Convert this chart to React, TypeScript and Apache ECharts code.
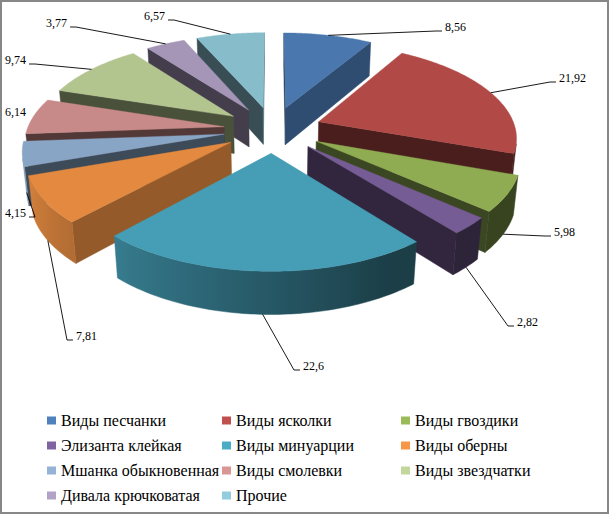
import React, { useEffect, useRef } from "react";
import * as echarts from "echarts";

// ---------- data ----------
const CATEGORIES = [
  "Виды песчанки",
  "Виды ясколки",
  "Виды гвоздики",
  "Элизанта клейкая",
  "Виды минуарции",
  "Виды оберны",
  "Мшанка обыкновенная",
  "Виды смолевки",
  "Виды звездчатки",
  "Дивала крючковатая",
  "Прочие",
];
const VALUES = [8.56, 21.92, 5.98, 2.82, 22.6, 7.81, 4.15, 6.14, 9.74, 3.77, 6.57];
const COLORS = [
  "#4F81BD", "#C0504D", "#9BBB59", "#8064A2", "#4BACC6", "#F79646",
  "#95B3D7", "#D99694", "#C3D69B", "#B3A2C7", "#93CDDD",
];

// ---------- layout (data-label boxes as placed in the original) ----------
const LABEL_POS: Array<[number, number, "left" | "right"]> = [
  [445, 27, "left"],
  [559, 78, "left"],
  [554, 232, "left"],
  [517, 322, "left"],
  [303, 366, "left"],
  [76, 336, "left"],
  [26, 213, "right"],
  [26, 112, "right"],
  [26, 60, "right"],
  [67, 23, "right"],
  [165, 16, "right"],
];

const SERIF = "'Liberation Serif', 'Times New Roman', serif";

const VIEW = {
  cx: 272.9,
  cy: 129.4,
  f: 197,
  sinA: 0.468,
  cosA: 0.884,
  k: 0.17,
  explode: 0.25,
  thick: 0.22,
};

const TOTAL = VALUES.reduce((s, v) => s + v, 0);
const STARTS: number[] = [];
{
  let acc = 0;
  VALUES.forEach((v) => {
    STARTS.push(acc);
    acc += v;
  });
}
const MIDS = VALUES.map((v, i) => ((STARTS[i] + v / 2) / TOTAL) * Math.PI * 2);
const ORDER = VALUES.map((_, i) => i).sort((a, b) => Math.cos(MIDS[b]) - Math.cos(MIDS[a]));

function project(X: number, Y: number, Z: number): number[] {
  const v = Y * VIEW.sinA + Z * VIEW.cosA;
  const w = 1 + VIEW.k * (Y * VIEW.cosA - Z * VIEW.sinA);
  return [VIEW.cx + (VIEW.f * X) / w, VIEW.cy - (VIEW.f * v) / w];
}

function shade(hex: string, f: number): string {
  const n = parseInt(hex.slice(1), 16);
  const r = Math.min(255, Math.round(((n >> 16) & 255) * f));
  const g = Math.min(255, Math.round(((n >> 8) & 255) * f));
  const b = Math.min(255, Math.round((n & 255) * f));
  return `rgb(${r},${g},${b})`;
}

function area(pts: number[][]): number {
  let s = 0;
  for (let i = 0; i < pts.length; i++) {
    const a = pts[i];
    const b = pts[(i + 1) % pts.length];
    s += a[0] * b[1] - b[0] * a[1];
  }
  return s;
}

function normDeg(d: number): number {
  return ((d % 360) + 360) % 360;
}

function wallFactor(deg: number): number {
  const d = normDeg(deg);
  const t = Math.max(0, Math.min(1, (d - 150) / 100));
  return 0.36 + 0.5 * t;
}

function radialFactor(deg: number): number {
  const d = normDeg(deg);
  if (d <= 135) return 0.6;
  if (d < 165) return 0.6 - ((d - 135) / 30) * 0.22;
  return 0.38;
}

function fmt(v: number): string {
  return String(v).replace(".", ",");
}

const renderItem = (params: any, api: any) => {
  const i = params.dataIndex;
  const v = api.value(0);
  const a1 = (STARTS[i] / TOTAL) * Math.PI * 2;
  const a2 = ((STARTS[i] + v) / TOTAL) * Math.PI * 2;
  const m = (a1 + a2) / 2;
  const ox = VIEW.explode * Math.sin(m);
  const oy = VIEW.explode * Math.cos(m);
  const T = VIEW.thick;
  const P = (ang: number, r: number, z: number) =>
    project(ox + r * Math.sin(ang), oy + r * Math.cos(ang), z);
  const color = COLORS[i];
  const base = 10 + ORDER.indexOf(i) * 10;
  const children: any[] = [];

  // radial cut faces
  const edges: Array<[number, boolean]> = [
    [a1, false],
    [a2, true],
  ];
  edges.forEach(([ang, isEnd]) => {
    const pts = [P(0, 0, 0), P(ang, 1, 0), P(ang, 1, -T), P(0, 0, -T)];
    const s = area(pts);
    const visible = isEnd ? s > 0 : s < 0;
    if (!visible) return;
    const nDeg = (ang * 180) / Math.PI + (isEnd ? 90 : -90);
    const fill = shade(color, radialFactor(nDeg));
    children.push({
      type: "polygon",
      shape: { points: pts },
      style: { fill, stroke: fill, lineWidth: 0.5 },
      z2: base + 1,
    });
  });

  // outer wall: contiguous visible runs, each one polygon with a horizontal gradient
  const N = Math.max(4, Math.ceil((a2 - a1) / (1 * (Math.PI / 180))));
  const angs: number[] = [];
  for (let k = 0; k <= N; k++) angs.push(a1 + ((a2 - a1) * k) / N);
  const vis: boolean[] = [];
  for (let k = 0; k < N; k++) {
    const a = angs[k];
    const b = angs[k + 1];
    vis.push(area([P(a, 1, 0), P(b, 1, 0), P(b, 1, -T), P(a, 1, -T)]) < 0);
  }
  let k = 0;
  while (k < N) {
    if (!vis[k]) {
      k++;
      continue;
    }
    let e = k;
    while (e < N && vis[e]) e++;
    const runAngs = angs.slice(k, e + 1);
    const topPts = runAngs.map((a) => P(a, 1, 0));
    const botPts = runAngs.map((a) => P(a, 1, -T)).reverse();
    const xs = topPts.map((p) => p[0]);
    const minX = Math.min(...xs);
    const maxX = Math.max(...xs);
    const span = Math.max(1e-3, maxX - minX);
    const stops = runAngs
      .map((a, j) => ({
        offset: (xs[j] - minX) / span,
        color: shade(color, wallFactor((a * 180) / Math.PI)),
      }))
      .sort((p, q) => p.offset - q.offset);
    const grad = new echarts.graphic.LinearGradient(minX, 0, maxX, 0, stops, true);
    children.push({
      type: "polygon",
      shape: { points: topPts.concat(botPts) },
      style: { fill: grad, stroke: grad, lineWidth: 0.5 },
      z2: base + 2,
    });
    k = e;
  }

  // top face
  const top: number[][] = [P(0, 0, 0)];
  const M = N * 2;
  for (let j = 0; j <= M; j++) top.push(P(a1 + ((a2 - a1) * j) / M, 1, 0));
  const topFill = shade(color, 0.92);
  children.push({
    type: "polygon",
    shape: { points: top },
    style: { fill: topFill, stroke: topFill, lineWidth: 0.4 },
    z2: base + 3,
  });

  // data label + leader line
  const anchor = Math.cos(m) < 0 ? P(m, 1, -T) : P(m, 1, 0);
  const [lx, ly, align] = LABEL_POS[i];
  const endX = align === "left" ? lx - 3 : lx + 3;
  const endY = ly + 4;
  const elbowX = align === "left" ? endX - 6 : endX + 6;
  const dist = Math.hypot(anchor[0] - endX, anchor[1] - endY);
  if (dist > 14) {
    children.push({
      type: "polyline",
      shape: { points: [anchor, [elbowX, endY], [endX, endY]] },
      style: { stroke: "#000", lineWidth: 0.9, fill: null },
      z2: 500,
    });
  }
  children.push({
    type: "text",
    style: {
      text: fmt(v),
      x: lx,
      y: ly,
      align,
      verticalAlign: "middle",
      fontSize: 12,
      fontFamily: SERIF,
      fill: "#000",
    },
    z2: 501,
  });

  return { type: "group", children };
};

const LEGEND_COLS = [47, 222, 401];

export default function App() {
  const ref = useRef<HTMLDivElement>(null);
  useEffect(() => {
    if (!ref.current) return;
    const chart = echarts.init(ref.current, undefined, { renderer: "svg" });
    const legends = LEGEND_COLS.map((x, c) => ({
      orient: "vertical",
      left: x,
      top: 410,
      padding: 0,
      itemGap: 4,
      itemWidth: 9,
      itemHeight: 8,
      icon: "rect",
      selectedMode: false,
      data: CATEGORIES.filter((_, i) => i % 3 === c),
      textStyle: {
        fontFamily: SERIF,
        fontSize: 16,
        color: "#000",
        lineHeight: 21,
      },
    }));
    chart.setOption({
      animation: false,
      backgroundColor: "#fff",
      color: COLORS,
      textStyle: { fontFamily: SERIF },
      legend: legends,
      graphic: [
        {
          type: "rect",
          shape: { x: 1, y: 1, width: 607, height: 512 },
          style: { fill: "none", stroke: "#878787", lineWidth: 2 },
          silent: true,
          z: 100,
        },
      ],
      series: [
        {
          type: "pie",
          name: "legendSource",
          radius: 0,
          center: [-50, -50],
          silent: true,
          label: { show: false },
          labelLine: { show: false },
          data: CATEGORIES.map((n, i) => ({ name: n, value: VALUES[i] })),
        },
        {
          type: "custom",
          coordinateSystem: "none",
          silent: true,
          renderItem,
          data: VALUES.map((v) => [v]),
        },
      ],
    });
    return () => chart.dispose();
  }, []);
  return (
    <div
      ref={ref}
      style={{ position: "absolute", left: 0, top: 0, width: 609, height: 514 }}
    />
  );
}
